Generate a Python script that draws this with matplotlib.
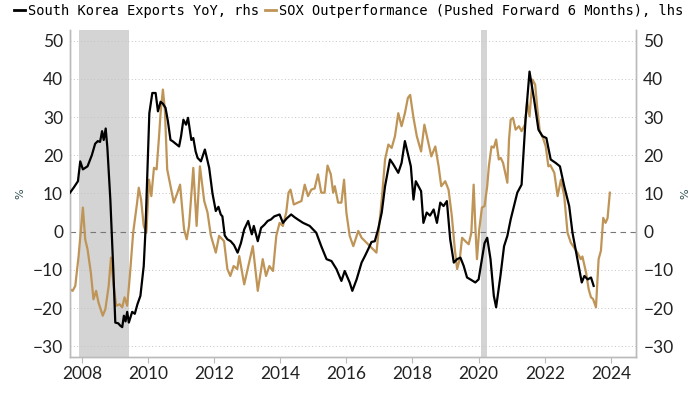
import matplotlib
matplotlib.use("Agg")
import matplotlib.pyplot as plt
from matplotlib.lines import Line2D

# South Korea exports YoY (rhs), decimal years
kor_t = [2007.64, 2007.75, 2007.88, 2007.95, 2008.03, 2008.17, 2008.3, 2008.4, 2008.48, 2008.55,
         2008.61, 2008.66, 2008.72, 2008.77, 2008.86, 2008.95, 2009.01, 2009.1, 2009.16, 2009.22,
         2009.27, 2009.32, 2009.37, 2009.42, 2009.52, 2009.6, 2009.68, 2009.77, 2009.83, 2009.87,
         2009.92, 2009.98, 2010.04, 2010.13, 2010.23, 2010.30, 2010.38, 2010.45, 2010.53, 2010.6,
         2010.68, 2010.74, 2010.84, 2010.94, 2011.0, 2011.07, 2011.15, 2011.21, 2011.31, 2011.37,
         2011.44, 2011.5, 2011.6, 2011.72, 2011.85, 2011.95, 2012.05, 2012.13, 2012.2, 2012.25,
         2012.32, 2012.4, 2012.5, 2012.6, 2012.71, 2012.81, 2012.91, 2013.03, 2013.1, 2013.14,
         2013.2, 2013.32, 2013.42, 2013.52, 2013.62, 2013.72, 2013.82, 2013.98, 2014.08, 2014.2,
         2014.33, 2014.43, 2014.53, 2014.69, 2014.89, 2015.09, 2015.24, 2015.4, 2015.55, 2015.7,
         2015.85, 2015.95, 2016.1, 2016.18, 2016.31, 2016.46, 2016.56, 2016.66, 2016.76, 2016.86,
         2016.96, 2017.07, 2017.17, 2017.32, 2017.42, 2017.57, 2017.67, 2017.77, 2017.88, 2017.95,
         2018.03, 2018.1, 2018.26, 2018.33, 2018.43, 2018.53, 2018.64, 2018.74, 2018.84, 2018.94,
         2019.04, 2019.14, 2019.25, 2019.35, 2019.45, 2019.55, 2019.65, 2019.75, 2019.9, 2020.0,
         2020.1, 2020.18, 2020.26, 2020.36, 2020.46, 2020.53, 2020.66, 2020.77, 2020.87, 2020.97,
         2021.07, 2021.17, 2021.3, 2021.42, 2021.54, 2021.68, 2021.81, 2021.93, 2022.05, 2022.18,
         2022.33, 2022.46, 2022.59, 2022.74, 2022.84, 2022.99, 2023.12, 2023.2, 2023.3, 2023.4,
         2023.48]
kor_v = [10.2, 11.5, 13.2, 18.4, 16.3, 17.1, 20, 23, 23.7, 23.5,
         26.3, 24, 27, 22, 8.4, -10, -23.8, -24, -24.6, -25,
         -22, -23.5, -21, -23.8, -21, -21.5, -19, -16.8, -12, -9,
         -0.2, 15, 31, 36.3, 36.3, 31.5, 34, 33.5, 32.4, 29,
         24, 23.7, 23, 22.3, 25, 29.3, 28, 29.8, 24, 24.5,
         21, 19.3, 18.4, 21.5, 16.7, 10, 5.4, 6.5, 4.5, 4,
         -1, -2, -2.5, -3.5, -5.5, -3, 0.6, 2.8, 0.5, -0.7,
         1.5, -2.5, 1, 1.8, 2.8, 3.2, 4, 4.5, 2.3, 3.5,
         4.5, 3.8, 3.2, 2.3, 1.5, -0.3, -3.8, -7.2, -7.7, -9.8,
         -12.9, -10.3, -13.3, -15.5, -12.5, -8.1, -6.4, -4.6, -2.7, -2.5,
         0.6, 5, 11.9, 18.9, 17.6, 15.4, 18, 23.7, 19.7, 17.1,
         8.4, 13.2, 10.6, 2.3, 5, 4.2, 5.8, 2.3, 7.6, 6.7,
         8, -2, -8.1, -7.2, -6.8, -9, -12, -12.5, -13.3, -12.5,
         -7.2, -3, -1.6, -7.2, -16.8, -19.8, -11.6, -3.8, -1.1, 3.2,
         6.7, 10.2, 12.3, 29.3, 41.9, 34.5, 26.7, 25, 24.5, 18.9,
         18, 17.1, 11.9, 6.7, -0.3, -7.2, -13.3, -11.6, -12.5, -12,
         -14.2]

# SOX outperformance pushed forward 6 months (lhs), decimal years
sox_t = [2007.64, 2007.72, 2007.8, 2007.9, 2008.03, 2008.1, 2008.17, 2008.27, 2008.35, 2008.43,
         2008.5, 2008.63, 2008.71, 2008.81, 2008.88, 2008.96, 2009.04, 2009.14, 2009.22, 2009.29,
         2009.37, 2009.45, 2009.55, 2009.67, 2009.72, 2009.79, 2009.87, 2009.95, 2010.03, 2010.1,
         2010.18, 2010.26, 2010.33, 2010.38, 2010.45, 2010.51, 2010.58, 2010.68, 2010.78, 2010.89,
         2010.97, 2011.09, 2011.17, 2011.24, 2011.37, 2011.47, 2011.57, 2011.7, 2011.8, 2011.9,
         2012.05, 2012.15, 2012.3, 2012.4, 2012.49, 2012.59, 2012.7, 2012.76, 2012.91, 2013.06,
         2013.17, 2013.32, 2013.47, 2013.57, 2013.67, 2013.78, 2013.88, 2013.98, 2014.08, 2014.18,
         2014.25, 2014.31, 2014.41, 2014.53, 2014.64, 2014.74, 2014.84, 2014.94, 2015.04, 2015.14,
         2015.24, 2015.34, 2015.43, 2015.53, 2015.6, 2015.65, 2015.75, 2015.85, 2015.93, 2016.0,
         2016.1, 2016.21, 2016.36, 2016.46, 2016.61, 2016.76, 2016.91, 2016.97, 2017.07, 2017.17,
         2017.27, 2017.37, 2017.47, 2017.57, 2017.67, 2017.77, 2017.86, 2017.93, 2018.03, 2018.13,
         2018.26, 2018.36, 2018.46, 2018.57, 2018.69, 2018.79, 2018.87, 2018.99, 2019.09, 2019.19,
         2019.28, 2019.35, 2019.43, 2019.5, 2019.6, 2019.7, 2019.78, 2019.85, 2019.9, 2019.95,
         2020.02, 2020.1, 2020.18, 2020.26, 2020.31, 2020.39, 2020.46, 2020.53, 2020.61, 2020.67,
         2020.74, 2020.87, 2020.92, 2020.97, 2021.04, 2021.12, 2021.22, 2021.3, 2021.4, 2021.47,
         2021.54, 2021.63, 2021.71, 2021.78, 2021.85, 2021.95, 2022.03, 2022.11, 2022.17, 2022.29,
         2022.39, 2022.49, 2022.59, 2022.69, 2022.79, 2022.89, 2022.99, 2023.09, 2023.14, 2023.25,
         2023.33, 2023.4, 2023.46, 2023.55, 2023.63, 2023.7, 2023.77, 2023.84, 2023.9, 2023.97]
sox_v = [-15.1, -15.5, -14.2, -6.4, 6.3, -2, -4.6, -10.7, -17.7, -15.5,
         -18.5, -22, -20.3, -14.2, -6.8, -14.2, -19.4, -19, -19.8, -17.2,
         -19.4, -11.6, -0.3, 7.6, 11.5, 8.4, 1.5, -0.3, 13.6, 9.3,
         16.7, 16.3, 24.5, 31, 37.2, 31.9, 16.3, 11.9, 7.6, 10.2,
         12.3, 0.6, -2, 1.5, 16.7, 1.5, 17.1, 8, 5, -1,
         -5.5, -1.1, -2.5, -9.8, -11.6, -9, -9.8, -6.4, -13.8, -8.1,
         -3.8, -15.5, -7.2, -11.6, -9, -10.3, -1.1, 2.3, 1.5, 5,
         10.2, 11, 7.1, 7.6, 8, 12.3, 9.3, 11, 11.3, 15,
         10.2, 10.2, 17.3, 15, 10.2, 11.9, 7.6, 7.6, 13.6, 5,
         -1.1, -3.8, 0.2, -1.6, -2.9, -4.2, -5.5, -0.3, 8.4, 18.9,
         22.8, 21.9, 25, 31, 27.6, 31, 35, 35.8, 29.8, 25,
         21, 28, 24.1, 19.7, 22.3, 17.1, 11.9, 13.2, 11, 4.1,
         -4.6, -9.8, -7.2, -1.6, -2.5, -3.3, -0.3, 12.3, 1.5, -7.2,
         0.6, 6.3, 6.7, 11.9, 17.1, 22.3, 22, 24.1, 18.9, 19.3,
         18, 12.8, 24.1, 29.3, 29.8, 26.7, 27.6, 26.3, 28, 34.1,
         30.2, 39.8, 38.5, 31.9, 26.3, 24.5, 22.3, 17.1, 17.4, 15.4,
         9.3, 13.6, 9.3, -0.3, -2.9, -4.2, -5.5, -7.2, -6.5, -10.7,
         -15.1, -17.2, -17.6, -19.8, -7.2, -5, 3.6, 2.3, 3.5, 10.2]

# recession bands (start, end) in decimal years
recessions = [(2007.92, 2009.42), (2020.08, 2020.24)]

years = list(range(2008, 2025, 2))
levels = [-30, -20, -10, 0, 10, 20, 30, 40, 50]

KOR_COLOR = "#000000"
SOX_COLOR = "#BF9457"
SPINE = "#BBBBBB"

fig = plt.figure(figsize=(7, 3.94), dpi=100)
ax = fig.add_axes([0.1, 0.095, 0.809, 0.829])
ax2 = ax.twinx()

ylim = (-32.7, 52.8)
xlim = (2007.64, 2024.77)

for a, b in recessions:
    ax.axvspan(a, b, color="#D4D4D4", lw=0, zorder=0)

for lv in levels:
    if lv == 0:
        ax.axhline(lv, color="#777777", lw=0.8, ls=(0, (5, 4)), zorder=1)
    else:
        ax.axhline(lv, color="#C4C4C4", lw=0.7, ls=(0, (1, 2.5)), zorder=1)

ax.plot(sox_t, sox_v, color=SOX_COLOR, lw=1.6, zorder=3)
ax2.plot(kor_t, kor_v, color=KOR_COLOR, lw=1.6, zorder=4)

for a in (ax, ax2):
    a.set_xlim(*xlim)
    a.set_ylim(*ylim)
    a.set_yticks(levels)
    a.spines["top"].set_visible(False)
    for s in ("left", "right", "bottom"):
        a.spines[s].set_color(SPINE)
        a.spines[s].set_linewidth(1.0)

ax.set_xticks(years)
ax.set_xticklabels([str(y) for y in years])
ax.tick_params(axis="x", length=4, color=SPINE, pad=3, labelcolor="#222222")
ax.tick_params(axis="y", length=0, pad=5, labelcolor="#222222")
ax2.tick_params(axis="y", length=0, pad=5, labelcolor="#222222")
for lab in ax.get_xticklabels() + ax.get_yticklabels() + ax2.get_yticklabels():
    lab.set_fontfamily("Lato")
    lab.set_fontsize(12.5)

# percent unit labels
fig.text(20 / 700, 1 - 194 / 394, "%", rotation=90, ha="center", va="center",
         fontsize=8, color="#2F4F4F")
fig.text(685 / 700, 1 - 194 / 394, "%", rotation=90, ha="center", va="center",
         fontsize=8, color="#2F4F4F")

handles = [Line2D([], [], color=KOR_COLOR, lw=2), Line2D([], [], color=SOX_COLOR, lw=2)]
labels = ["South Korea Exports YoY, rhs", "SOX Outperformance (Pushed Forward 6 Months), lhs"]
fig.legend(handles, labels, loc="upper left", bbox_to_anchor=(0.008, 1.01), ncol=2,
           frameon=False, handlelength=0.8, handletextpad=0.25, columnspacing=0.4,
           prop=dict(family="DejaVu Sans Mono", size=9.9), borderaxespad=0.2)

fig.savefig("out.png", dpi=100)
